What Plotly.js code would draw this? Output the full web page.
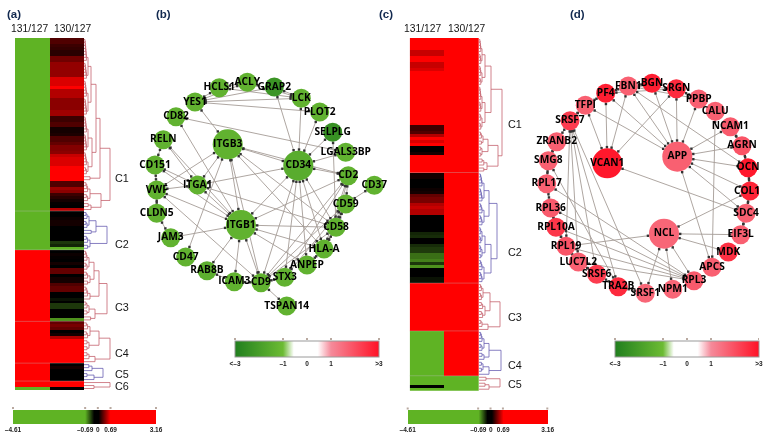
<!DOCTYPE html>
<html><head><meta charset="utf-8">
<script src="https://cdn.plot.ly/plotly-3.0.1.min.js"></script>
<style>html,body{margin:0;padding:0;background:#fff}#chart{width:768px;height:441px;filter:blur(0.25px)}</style>
</head><body><div id="chart"></div>
<script>
// ---------- heat-map values (log2 ratios), read row by row ----------
const columns = ['131/127','130/127'];
const a130C1 = [.25,.25,.2,.18,.15,.15,.33,.33,.42,.42,.42,.42,.42,.6,.6,.6,.7,.5,.5,.5,.4,.4,.4,.4,.45,.45,.2,.2,.25,.25,.1,.1,.12,.25,.25,.3,.38,.38,.4,.55,.6,.6,.6,.8,.8,.9,.9,.7,.25,.25,.45,.4,.2,.15,.1,.06,.03,.5];
const a130C2 = [.05,.05,.08,.1,.1,-.15,-.2,0,0,-.2,-.35,-.3,-.7];
const a130C3 = [.05,.08,.06,.04,.1,.05,.3,.3,.05,.1,.1,.25,.3,.3,0,-.15,-.25,-.15,-.35,-.35,0,-.15,-.2,-.6];
const a130C4 = [.3,.35,.3,.05,.1,.5,.7,1.5,1.5,1.5,1.5,1.5,1.5,1.5];
const a130C5 = [.05,.1,.02,0,.05,.02];
const a130C6 = [1.5,1.5,.02];
const a131Runs = [[-2.5,71],[2,46],[-2.5,1]];

const c131C1 = [.9,.9,.75,.9,.55,.55,1,1,.55,.55,.6,1,1,1,1,1,1,1,1,1,1,1,1,1,1,1,1,1,1,.2,.2,.25,.5,1,.6,.7,.05,.05,.1,1,1,1,1,1,1];
const c131C2 = [.1,.1,.05,0,0,.08,.1,.3,.35,.35,.5,.55,.5,.5,.02,0,0,.02,0,0,-.3,-.32,0,-.02,-.32,-.36,-.36,-.5,-.5,-.55,-.35,-.6,0,0,0,-.25,-.25];
const c131C3 = [2,2,2,2,2,2,2,2,2,2,2,2,2,2,2,2];
const c131C4 = [-2.5,-2.5,-2.5,-2.5,-2.5,-2.5,-2.5,-2.5,-2.5,-2.5,-2.5,-2.5,-2.5,-2.5,-2.5];
const c131C5 = [-2.5,-2.5,-2.5,-.1,-2.5];
const c130Runs = [[2,113],[-2.5,5]];

// ---------- dendrogram topology: [merge height, child, child]; a number = that many rows ----------
const treesA = [
 [26,[16,[12,[7,[4,8,6],[4,6,6]],[8,[4,6,6],[4,5,3]]],[6,1,1]],[17,[6,4,3],[7,2,1]]],
 [23,[12,[5,3,3],2],[6,3,2]],
 [23,[15,[10,[5,4,3],[6,3,2]],[6,4,1]],[11,[5,3,2],2]],
 [26,[15,[6,3,3],[5,2,2]],[11,[5,2,1],1]],
 [19,[8,2,1],[10,[3,1,1],1]],
 [26,1,[10,1,1]]
];
const treesC = [
 [23,[12,[6,[3,5,4],[3,4,3]],[6,[3,5,4],[3,3,3]]],[19,[9,[4,3,2],[3,2,2]],[8,3,2]]],
 [18,[10,[5,5,5],[5,4,4]],[12,[6,[3,3,3],[3,3,2]],[5,4,4]]],
 [21,[11,[4,3,3],[6,3,3]],[9,[3,2,1],1]],
 [22,[10,[5,4,3],[5,2,1]],[10,[4,2,2],1]],
 [21,[7,1,1],[10,2,1]]
];
const treeColoursA = ['#c5636e','#6a60b2','#c5636e','#c5636e','#6a60b2','#c5636e'];
const treeColoursC = ['#c5636e','#6a60b2','#c5636e','#6a60b2','#c5636e'];
const clusterLabels = ['C1','C2','C3','C4','C5','C6'];
const clusterLabelYA = [178,244,307,353,374,386];
const clusterLabelYC = [124,252,317,365,384];

// ---------- network (b) ----------
const netBNames = ['ACLY','GRAP2','HCLS1','LCK','YES1','PLOT2','CD82','SELPLG','RELN','ITGB3','LGALS3BP','CD34','CD151','CD2','CD37','ITGA1','VWF','CD59','CLDN5','ITGB1','CD58','JAM3','HLA-A','CD47','ANPEP','RAB8B','ICAM3','CD9','STX3','TSPAN14'];
const netBFold  = [-1.3,-2.3,-1.3,-1.3,-1.3,-1.3,-1.3,-2.4,-1.3,-1.3,-1.3,-1.5,-1.3,-1.3,-1.3,-1.3,-1.3,-1.3,-1.3,-1.3,-1.3,-1.3,-1.3,-1.3,-1.3,-1.4,-1.3,-1.3,-1.3,-1.3];
const netBX = [247.3,274.3,219.3,301.3,195,319.7,176,332.7,163.3,227.7,345.7,298.3,155,348.3,374.3,197.7,156.7,345.7,156.7,241,336,170.7,324,185.7,307,207,234.3,261,284.7,286.7];
const netBY = [82.3,87,87.7,98.3,102,112,116.7,132.3,139.7,144.3,152.3,165.7,165,175.7,185.3,185,190,204,213.3,225,227.3,237.7,249,257,265,270.7,281.7,282.7,277.3,306];
const netBSize = [19,19,19,19,19,19,19,19,19,30,19,30,19,19,19,19,19,19,19,30,19,19,19,19,19,19,19,19,19,19];
const netBEdges = [['YES1','HCLS1'],['YES1','ACLY'],['YES1','GRAP2'],['YES1','LCK'],['YES1','PLOT2'],['HCLS1','LCK'],['HCLS1','ACLY'],['ACLY','LCK'],['GRAP2','LCK'],['GRAP2','CD34'],['LCK','CD34'],['PLOT2','CD34'],['SELPLG','CD34'],['SELPLG','CD58'],['LGALS3BP','CD34'],['LGALS3BP','CD82'],['CD82','ITGB1'],['YES1','ITGB3'],['RELN','CD151'],['RELN','ITGA1'],['RELN','ITGB1'],['ITGB3','CD34'],['ITGB3','CD2'],['ITGB3','ITGA1'],['ITGB3','VWF'],['ITGB3','CD47'],['ITGB3','ITGB1'],['ITGB3','CD9'],['ITGB3','CD58'],['ITGB3','HLA-A'],['CD34','ITGB1'],['CD34','ITGA1'],['CD34','CD2'],['CD34','CD9'],['CD34','STX3'],['CD34','ANPEP'],['CD34','HLA-A'],['CD34','CD58'],['CD151','ITGA1'],['CD151','ITGB1'],['CD151','VWF'],['VWF','ITGA1'],['VWF','CLDN5'],['VWF','ITGB1'],['VWF','CD9'],['CLDN5','JAM3'],['JAM3','ITGB1'],['RAB8B','ITGB1'],['RAB8B','ICAM3'],['ICAM3','ITGB1'],['ICAM3','CD9'],['CD9','ITGB1'],['CD9','STX3'],['CD9','TSPAN14'],['CD9','CD58'],['CD9','CD59'],['CD9','CD2'],['STX3','CD2'],['STX3','CD59'],['ANPEP','ITGB1'],['ANPEP','HLA-A'],['HLA-A','CD58'],['HLA-A','CD59'],['HLA-A','ITGB1'],['HLA-A','CD2'],['CD58','ITGB1'],['CD58','CD59'],['CD58','CD2'],['CD59','CD2'],['CD59','CD37'],['CD2','ITGB1'],['ITGA1','ITGB1'],['ITGA1','CD58']];

// ---------- network (d) ----------
const netDNames = ['BGN','SRGN','FBN1','PF4','PPBP','TFPI','CALU','SRSF7','NCAM1','ZRANB2','AGRN','APP','VCAN1','SMG8','OCN','RPL17','COL18','RPL36','SDC4','EIF3L','NCL','RPL10A','RPL19','MDK','LUC7L2','APCS','SRSF6','RPL3','TRA2B','NPM1','SRSF1'];
const netDFold  = [2.8,2.6,1.7,2.8,1.7,1.7,1.7,2.3,1.8,1.7,1.9,1.7,2.9,1.7,2.9,1.7,2.7,1.8,1.7,1.7,1.6,2.4,1.9,2.5,1.7,1.7,2.3,1.8,2.6,1.6,1.6];
const netDX = [652,676.3,628.3,605.7,698.7,585.3,715.3,570,730.3,556.7,742,677.3,607.3,548.3,748,546.7,750,550.7,746,740.7,664,556,566,728.3,578.3,712,596.7,694,618.3,672.7,645.3];
const netDY = [83.3,88.7,86,93.3,99,105.3,111.3,120.7,126.7,141.7,145.7,156.7,163.3,160.7,167.7,183.7,191,208,213.3,234.7,233.7,227.3,246.3,252,262,267.3,274.3,280.7,286.7,289.3,293.3];
const netDSize = [19,19,19,19,19,19,19,19,19,19,19,30,30,19,19,19,19,19,19,19,30,19,19,19,19,19,19,19,19,19,19];
const netDEdges = [['BGN','APP'],['BGN','FBN1'],['SRGN','APP'],['SRGN','VCAN1'],['SRGN','PF4'],['SRGN','PPBP'],['SRGN','FBN1'],['FBN1','APP'],['FBN1','VCAN1'],['FBN1','PF4'],['FBN1','PPBP'],['FBN1','OCN'],['PF4','VCAN1'],['PF4','APP'],['PF4','TFPI'],['TFPI','VCAN1'],['TFPI','APP'],['TFPI','SRSF7'],['PPBP','APP'],['NCAM1','APP'],['NCAM1','AGRN'],['AGRN','APP'],['AGRN','OCN'],['OCN','APP'],['OCN','COL18'],['COL18','APP'],['COL18','SDC4'],['COL18','NCL'],['SDC4','EIF3L'],['SDC4','VCAN1'],['SDC4','APP'],['EIF3L','NCL'],['MDK','NCL'],['CALU','APCS'],['APP','APCS'],['RPL3','NCL'],['RPL3','RPL17'],['RPL3','RPL36'],['RPL3','RPL10A'],['RPL3','RPL19'],['RPL3','LUC7L2'],['NPM1','NCL'],['SRSF1','NCL'],['SRSF7','SRSF1'],['SRSF7','TRA2B'],['SRSF7','SRSF6'],['SRSF7','LUC7L2'],['SRSF7','RPL19'],['ZRANB2','SRSF7'],['ZRANB2','SMG8'],['SMG8','RPL17'],['SMG8','TRA2B'],['RPL17','RPL36'],['RPL36','RPL10A'],['RPL10A','RPL19'],['RPL19','LUC7L2'],['LUC7L2','SRSF6'],['SRSF6','TRA2B'],['TRA2B','SRSF1'],['RPL19','NCL']];

// ---------- colour legends ----------
const heatTicks = [-4.61,-0.69,0,0.69,3.16];
const heatTickText = ['\u20134.61','\u20130.69','0','0.69','3.16'];
const netTicks = [-3,-1,0,1,3];
const netTickText = ['<\u20133','\u20131','0','1','>3'];
const heatMin = -4.61, heatMax = 3.16;
const heatStop = v => (v - heatMin) / (heatMax - heatMin);
const heatScale = [[0,'#5fb324'],[heatStop(-0.69),'#5fb324'],[heatStop(-0.2),'#000000'],[heatStop(0.05),'#000000'],[heatStop(0.69),'#ff0000'],[1,'#ff0000']];
const netStop = v => (v + 3) / 6;
const netScale = [[0,'#217f1e'],[netStop(-1),'#6cbb33'],[netStop(-0.55),'#ffffff'],[netStop(0.45),'#ffffff'],[netStop(1),'#f58a9a'],[1,'#ff1226']];

// ---------- page layout (pixels of the 768x441 window) ----------
const W = 768, H = 441;
const fx = p => p / W, fy = p => 1 - p / H;
const runs = list => list.flatMap(([v,n]) => Array(n).fill(v));
const sans = 'Liberation Sans, Arial, sans-serif';
const traces = [], shapes = [], annotations = [];

const layout = {
  width: W, height: H, margin:{l:0,r:0,t:0,b:0,pad:0,autoexpand:false},
  paper_bgcolor:'#fff', plot_bgcolor:'rgba(0,0,0,0)', showlegend:false, hovermode:false
};
const hidden = o => Object.assign({visible:false,fixedrange:true,showgrid:false,zeroline:false}, o);
layout.xaxis  = hidden({domain:[fx(15),fx(84)]});
layout.yaxis  = hidden({domain:[fy(390),fy(38)],range:[117.5,-0.5]});
layout.xaxis2 = hidden({domain:[fx(84),fx(114)],range:[0,30],anchor:'y'});
layout.xaxis3 = hidden({domain:[fx(409.7),fx(479)],anchor:'y2'});
layout.yaxis2 = hidden({domain:[fy(390.7),fy(38)],range:[117.5,-0.5],anchor:'x3'});
layout.xaxis4 = hidden({domain:[fx(479),fx(509)],range:[0,30],anchor:'y2'});
layout.xaxis5 = hidden({domain:[0,1],range:[0,W],anchor:'y3'});
layout.yaxis3 = hidden({domain:[0,1],range:[H,0],anchor:'x5'});

function heat(col1, col2, xa, ya, barX, barLen, barY) {
  traces.push({type:'heatmap', x:columns, y:col1.map((_,i)=>i), z:col1.map((v,i)=>[v,col2[i]]),
    xaxis:xa, yaxis:ya, zmin:heatMin, zmax:heatMax, colorscale:heatScale, hoverinfo:'skip', xgap:0, ygap:0,
    showscale:true, colorbar:legendBar(barX,barLen,barY,14,heatTicks,heatTickText,0,'#fff')});
}
function legendBar(x,len,y,th,vals,text,outline,oc){
  return {orientation:'h', x:fx(x), xanchor:'left', y:fy(y), yanchor:'top', len:len, lenmode:'pixels',
    thickness:th, thicknessmode:'pixels', xpad:0, ypad:0, outlinewidth:outline, outlinecolor:oc, borderwidth:0,
    tickmode:'array', tickvals:vals, ticktext:text, ticks:'', ticklen:0, tickangle:0,
    tickfont:{family:sans,size:6.5,color:'#222',weight:'bold'}};
}
const a130 = [...a130C1,...a130C2,...a130C3,...a130C4,...a130C5,...a130C6];
const c131 = [...c131C1,...c131C2,...c131C3,...c131C4,...c131C5];
heat(runs(a131Runs), a130, 'x','y', 13,143,410);
heat(c131, runs(c130Runs), 'x3','y2', 407.7,139.6,410.3);

// dendrograms
function count(n){ return Array.isArray(n) ? count(n[1])+count(n[2]) : n; }
function drawTree(node, start, parentH, xs, ys){
  if(!Array.isArray(node)){
    const n = node;
    if(n===1) return {y:start,h:0};
    const top = parentH*0.6; let y=start, h=0;
    for(let i=1;i<n;i++){
      const nh = top*(0.3+0.7*i/(n-1));
      const next = start+i;
      xs.push(h,nh,nh,0,null); ys.push(y,y,next,next,null);
      y=(y+next)/2; h=nh;
    }
    return {y,h};
  }
  const [h,a,b] = node;
  const A = drawTree(a,start,h,xs,ys), B = drawTree(b,start+count(a),h,xs,ys);
  xs.push(A.h,h,h,B.h,null); ys.push(A.y,A.y,B.y,B.y,null);
  return {y:(A.y+B.y)/2,h};
}
function dendro(trees,colours,xa,ya){
  let s=0;
  trees.forEach((t,i)=>{
    const xs=[],ys=[]; drawTree(t,s,t[0]*1.25,xs,ys); s+=count(t);
    traces.push({type:'scatter',mode:'lines',x:xs,y:ys,xaxis:xa,yaxis:ya,hoverinfo:'skip',line:{color:colours[i],width:0.8}});
    if(i<trees.length-1) shapes.push({type:'line',xref:'x5',yref:ya,x0:xa==='x2'?15:409.7,x1:xa==='x2'?84:479,y0:s-0.5,y1:s-0.5,layer:'above',line:{color:'rgba(190,190,190,0.45)',width:0.8}});
  });
}
dendro(treesA,treeColoursA,'x2','y');
dendro(treesC,treeColoursC,'x4','y2');

// networks
function network(names,fold,X,Y,size,edges,barX,barLen){
  const idx = Object.fromEntries(names.map((n,i)=>[n,i]));
  const lx=[],ly=[],mx=[],my=[];
  edges.forEach(([p,q])=>{
    const i=idx[p],j=idx[q];
    lx.push(X[i],X[j],null); ly.push(Y[i],Y[j],null);
    const dx=X[j]-X[i],dy=Y[j]-Y[i],d=Math.hypot(dx,dy);
    const ri=size[i]/2+1.2,rj=size[j]/2+1.2;
    mx.push(X[i]+dx*ri/d,X[j]-dx*rj/d); my.push(Y[i]+dy*ri/d,Y[j]-dy*rj/d);
  });
  traces.push({type:'scatter',mode:'lines',x:lx,y:ly,xaxis:'x5',yaxis:'y3',hoverinfo:'skip',line:{color:'#a59c96',width:0.9}});
  traces.push({type:'scatter',mode:'markers',x:mx,y:my,xaxis:'x5',yaxis:'y3',hoverinfo:'skip',marker:{size:2.4,symbol:'square',color:'#333',opacity:1}});
  traces.push({type:'scatter',mode:'markers+text',x:X,y:Y,text:names,textposition:'middle center',xaxis:'x5',yaxis:'y3',hoverinfo:'skip',
    textfont:{family:'Open Sans, sans-serif',size:10.2,color:'#000',weight:700},
    marker:{size:size,opacity:1,color:fold,cmin:-3,cmax:3,colorscale:netScale,line:{width:0},showscale:true,
      colorbar:legendBar(barX,barLen,341,16,netTicks,netTickText,1,'#9a9a9a')}});
}
network(netBNames,netBFold,netBX,netBY,netBSize,netBEdges,235,144);
network(netDNames,netDFold,netDX,netDY,netDSize,netDEdges,615,144);

// tiny marks above the four legends, on their own value axes
[[4,'x6',13,156,heatMin,heatMax,heatTicks,408],[5,'x7',407.7,547.3,heatMin,heatMax,heatTicks,408.5],
 [6,'x8',235,379,-3,3,netTicks,339],[7,'x9',615,759,-3,3,netTicks,339]].forEach(([k,xa,a,b,lo,hi,vals,yy])=>{
  layout['xaxis'+(k+2)] = hidden({domain:[fx(a),fx(b)],range:[lo,hi],anchor:'y3'});
  traces.push({type:'scatter',mode:'markers',x:vals,y:vals.map(()=>yy),xaxis:xa,yaxis:'y3',hoverinfo:'skip',cliponaxis:false,marker:{size:2,symbol:'square',color:'#b9a9a0'}});
});

// text
function label(text,x,y,size,opt){
  annotations.push(Object.assign({text,x,y,xref:'x5',yref:'y3',showarrow:false,xanchor:'center',yanchor:'middle',
    font:{family:sans,size,color:'#151515'}},opt||{}));
}
const navy={font:{family:sans,size:11.5,color:'#12294f',weight:'bold'}};
label('(a)',13.5,14,11.5,navy); label('(b)',163.5,14,11.5,navy); label('(c)',386,14,11.5,navy); label('(d)',577.5,14,11.5,navy);
label(columns[0],29,28,10.3); label(columns[1],72.7,28,10.3);
label(columns[0],422,28,10.3); label(columns[1],466,28,10.3);
clusterLabelYA.forEach((y,i)=>label(clusterLabels[i],122,y,10.8));
clusterLabelYC.forEach((y,i)=>label(clusterLabels[i],515,y,10.8));

// the source image ends at x = 759
shapes.push({type:'rect',xref:'x5',yref:'y3',x0:759,x1:768,y0:0,y1:441,layer:'above',fillcolor:'#fff',line:{width:0}});
layout.shapes = shapes; layout.annotations = annotations;

Plotly.newPlot('chart',traces,layout,{displayModeBar:false,staticPlot:true});
</script></body></html>
